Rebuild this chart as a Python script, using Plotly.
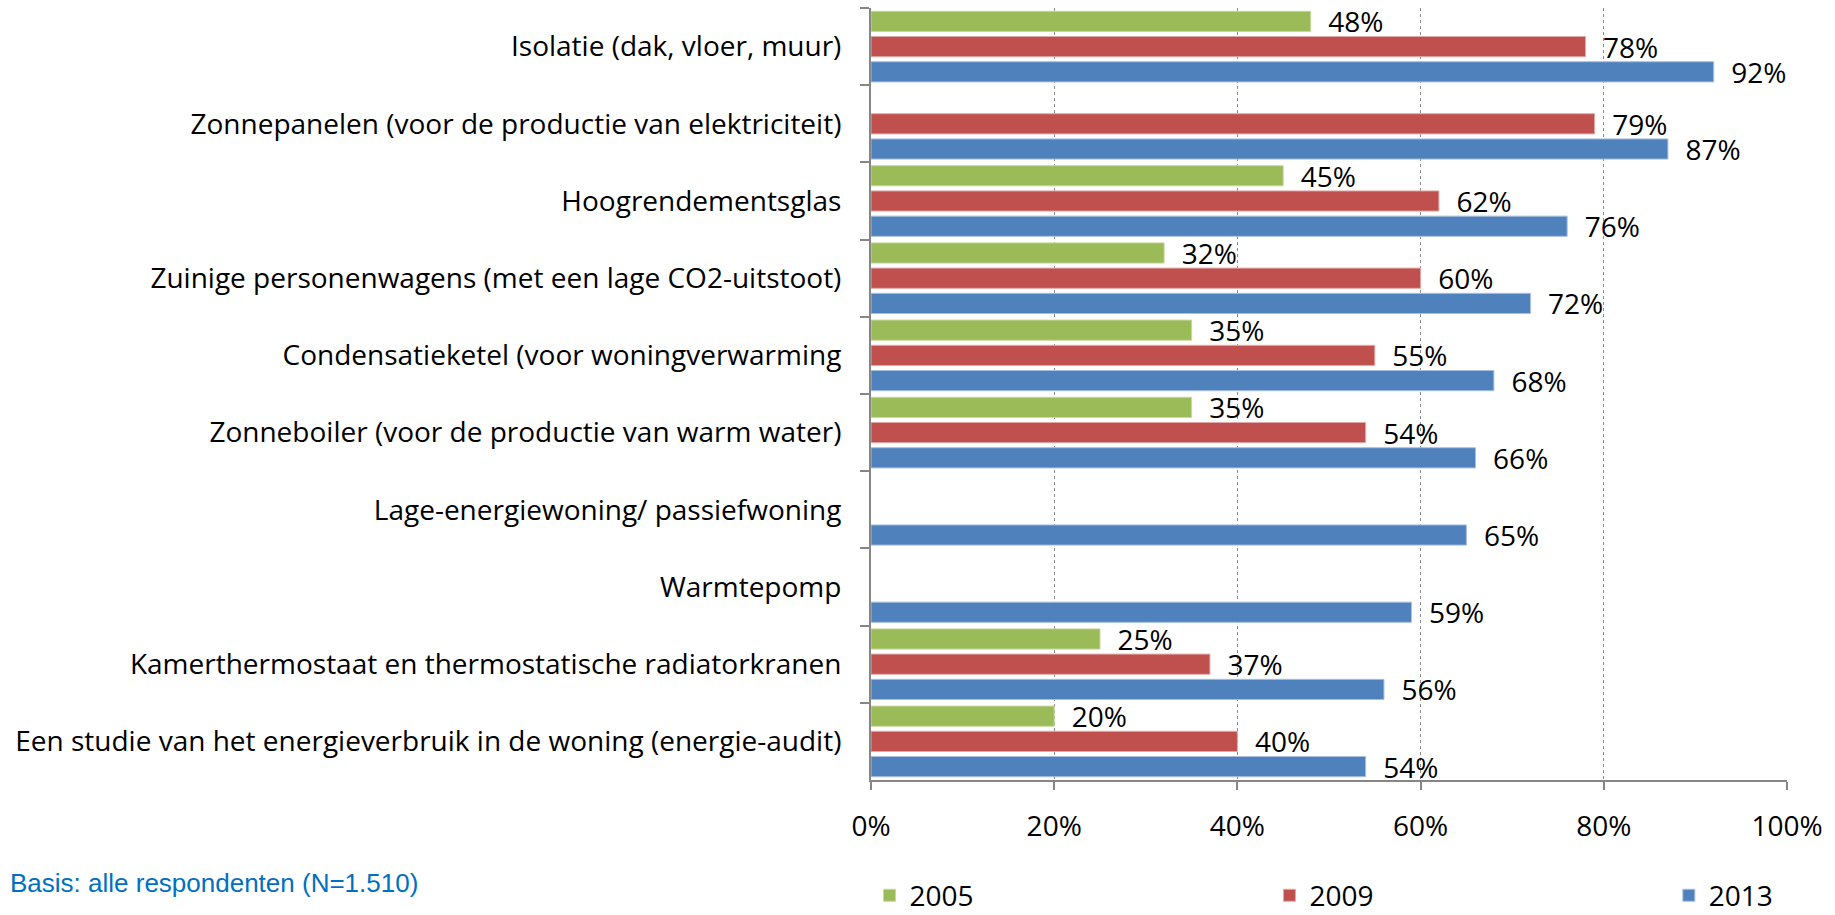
import plotly.graph_objects as go

categories = [
    "Isolatie (dak, vloer, muur)",
    "Zonnepanelen (voor de productie van elektriciteit)",
    "Hoogrendementsglas",
    "Zuinige personenwagens (met een lage CO2-uitstoot)",
    "Condensatieketel (voor woningverwarming",
    "Zonneboiler (voor de productie van warm water)",
    "Lage-energiewoning/ passiefwoning",
    "Warmtepomp",
    "Kamerthermostaat en thermostatische radiatorkranen",
    "Een studie van het energieverbruik in de woning (energie-audit)",
]
v2005 = [48, None, 45, 32, 35, 35, None, None, 25, 20]
v2009 = [78, 79, 62, 60, 55, 54, None, None, 37, 40]
v2013 = [92, 87, 76, 72, 68, 66, 65, 59, 56, 54]
series_names = ["2005", "2009", "2013"]
series_colors = ["#9BBB59", "#C0504D", "#4F81BD"]
line_colors = ["#C6D9A0", "#E0A9A7", "#A7C0DE"]
legend_ids = ["legend", "legend2", "legend3"]
legend_x = [-0.0016, 0.435, 0.871]
x_ticks = [0, 20, 40, 60, 80, 100]
x_ticktext = ["0%", "20%", "40%", "60%", "80%", "100%"]

FONT = "Open Sans"
fig = go.Figure()
for name, vals, col, lc, lid in zip(series_names, [v2005, v2009, v2013], series_colors, line_colors, legend_ids):
    labels = ["" if v is None else f"\u00a0\u00a0{v}%" for v in vals]
    fig.add_trace(go.Bar(
        y=categories, x=vals, name=name, orientation="h", legend=lid, showlegend=True,
        marker=dict(color=col, line=dict(color=lc, width=1)),
        text=labels, texttemplate="%{text}", textposition="outside",
        textfont=dict(family=FONT, size=28, color="#000000"),
        constraintext="none", cliponaxis=False, hoverinfo="x+y",
    ))

legend_common = dict(orientation="h", xanchor="left", y=-0.1173, yanchor="top",
                     bgcolor="rgba(0,0,0,0)", font=dict(family=FONT, size=28))
fig.update_layout(
    width=1835, height=915, showlegend=True,
    margin=dict(l=871, r=48, t=8, b=135, autoexpand=False),
    barmode="group", bargap=0.02, bargroupgap=0.2,
    plot_bgcolor="white", paper_bgcolor="white",
    font=dict(family=FONT, size=28, color="#000000"),
    legend=dict(x=legend_x[0], **legend_common),
    legend2=dict(x=legend_x[1], **legend_common),
    legend3=dict(x=legend_x[2], **legend_common),
    xaxis=dict(range=[0, 100], tickvals=x_ticks, ticktext=x_ticktext,
               showgrid=True, gridcolor="#8C8C8C", griddash="dot", gridwidth=1,
               showline=True, linecolor="#868686", linewidth=2,
               ticks="outside", ticklen=8, tickcolor="#868686", tickwidth=2,
               ticklabelstandoff=12, zeroline=False, fixedrange=True),
    yaxis=dict(autorange="reversed", showline=True, linecolor="#868686", linewidth=2,
               ticks="outside", ticklen=9, tickcolor="#868686", tickwidth=2,
               tickson="boundaries", showgrid=False, ticklabelstandoff=22,
               tickfont=dict(family=FONT, size=28), fixedrange=True),
    annotations=[dict(text="Basis: alle respondenten (N=1.510)", xref="paper", yref="paper",
                      x=-0.942, y=-0.134, xanchor="left", yanchor="middle", showarrow=False,
                      font=dict(family="Liberation Sans", size=26, color="#0070C0"))],
)
fig.write_html("out.html", config={"displayModeBar": False},
               post_script="document.body.style.margin='0';")
